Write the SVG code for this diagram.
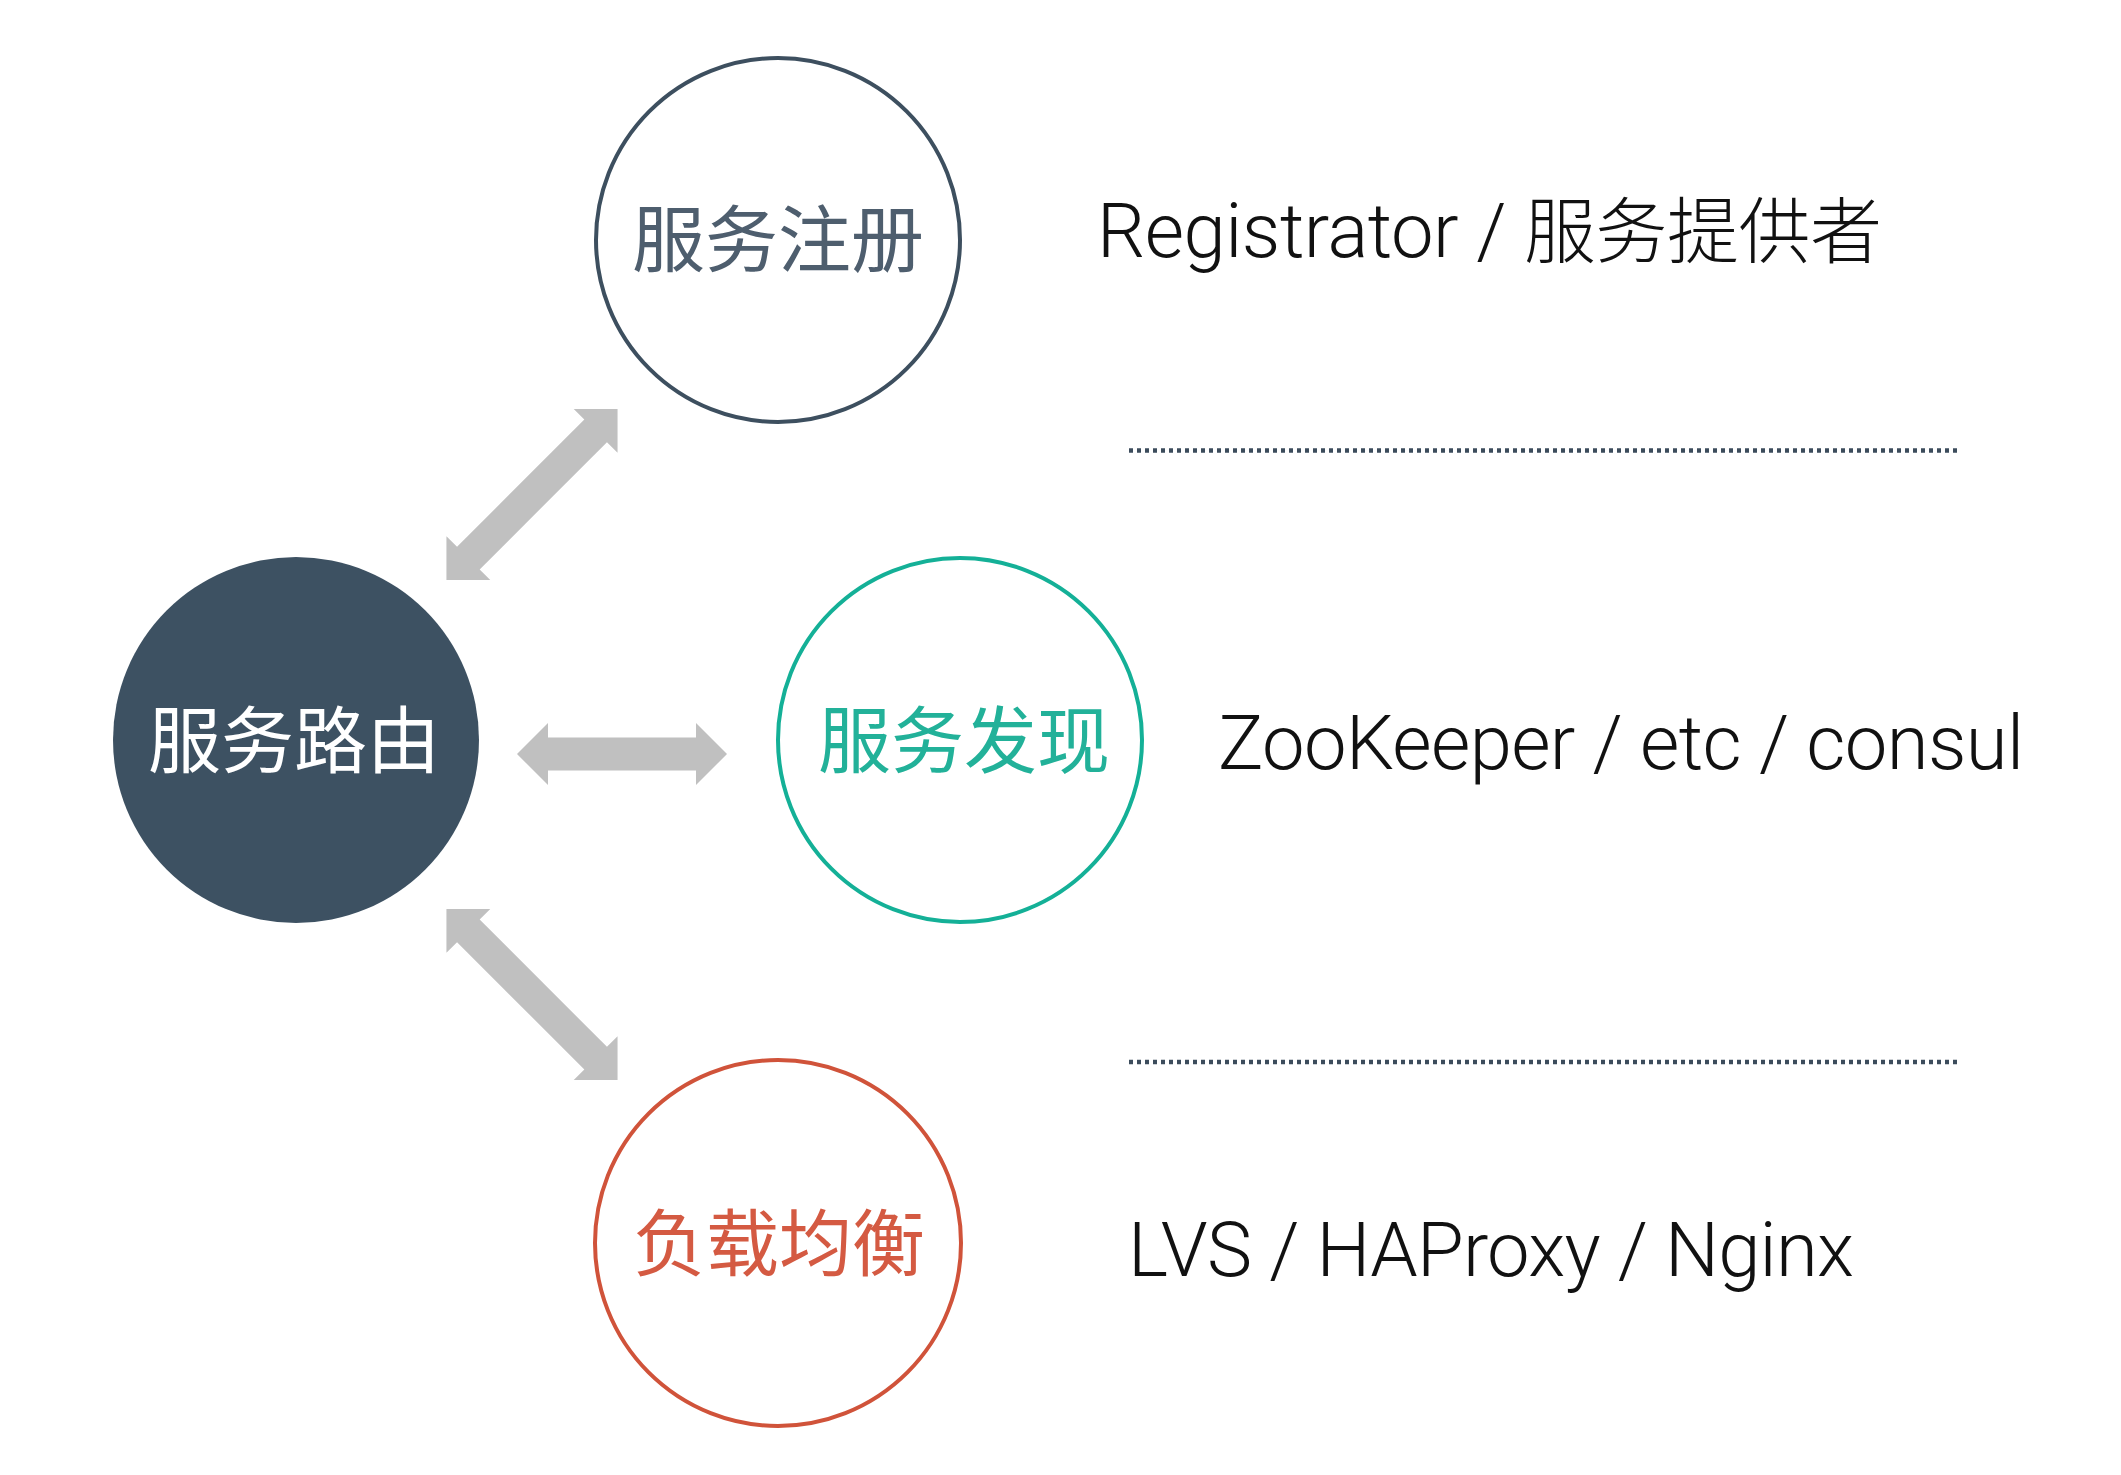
<svg xmlns="http://www.w3.org/2000/svg" width="2121" height="1475" viewBox="0 0 2121 1475">
  <style>
    .node-label { font-family: "Noto Sans CJK SC", sans-serif; font-size: 73px; text-anchor: middle; }
    .desc { font-family: Roboto, "Liberation Sans", "Noto Sans CJK SC", sans-serif; font-weight: 300; font-size: 76px; fill: #111111; }
    .desc-cjk { font-family: "Noto Sans CJK SC", sans-serif; font-weight: 300; font-size: 72px; }
    .arrow { fill: #c0c0c0; }
    .sep { stroke: #3c4c5c; stroke-width: 4.5; stroke-dasharray: 4 4; fill: none; }
  </style>
  <defs>
    <path id="dbl105" d="M -105,0 L -74,-31 L -74,-16.5 L 74,-16.5 L 74,-31 L 105,0 L 74,31 L 74,16.5 L -74,16.5 L -74,31 Z"/>
    <path id="dbl121" d="M -121,0 L -90,-31 L -90,-16 L 90,-16 L 90,-31 L 121,0 L 90,31 L 90,16 L -90,16 L -90,31 Z"/>
  </defs>
  <rect width="2121" height="1475" fill="#ffffff"/>

  <g id="connectors">
    <use href="#dbl121" class="arrow" transform="translate(532,494.5) rotate(-45)"/>
    <use href="#dbl105" class="arrow" transform="translate(622,754)"/>
    <use href="#dbl121" class="arrow" transform="translate(532,994.5) rotate(45)"/>
  </g>

  <g id="node-router">
    <circle cx="296" cy="740" r="183" fill="#3d5162"/>
    <text class="node-label" x="294" y="767" fill="#ffffff">服务路由</text>
  </g>

  <g id="node-register">
    <circle cx="778" cy="240" r="182" fill="#ffffff" stroke="#3d4f5f" stroke-width="4"/>
    <text class="node-label" x="778" y="266" fill="#4e5e6e">服务注册</text>
  </g>

  <g id="node-discovery">
    <circle cx="960" cy="740" r="182" fill="#ffffff" stroke="#14b097" stroke-width="4"/>
    <text class="node-label" x="964" y="767" fill="#22b199">服务发现</text>
  </g>

  <g id="node-loadbalance">
    <circle cx="778" cy="1243" r="183" fill="#ffffff" stroke="#d0533a" stroke-width="4"/>
    <text class="node-label" x="779" y="1270" fill="#d45a42">负载均衡</text>
  </g>

  <g id="separators">
    <line class="sep" x1="1129" y1="450.5" x2="1957" y2="450.5"/>
    <line class="sep" x1="1129" y1="1062" x2="1957" y2="1062"/>
  </g>

  <g id="descriptions">
    <text class="desc" x="1097" y="257" textLength="785" lengthAdjust="spacing">Registrator / <tspan class="desc-cjk">服务提供者</tspan></text>
    <text class="desc" x="1218" y="769" textLength="806" lengthAdjust="spacing">ZooKeeper / etc / consul</text>
    <text class="desc" x="1128" y="1276" textLength="726" lengthAdjust="spacing">LVS / HAProxy / Nginx</text>
  </g>
</svg>
